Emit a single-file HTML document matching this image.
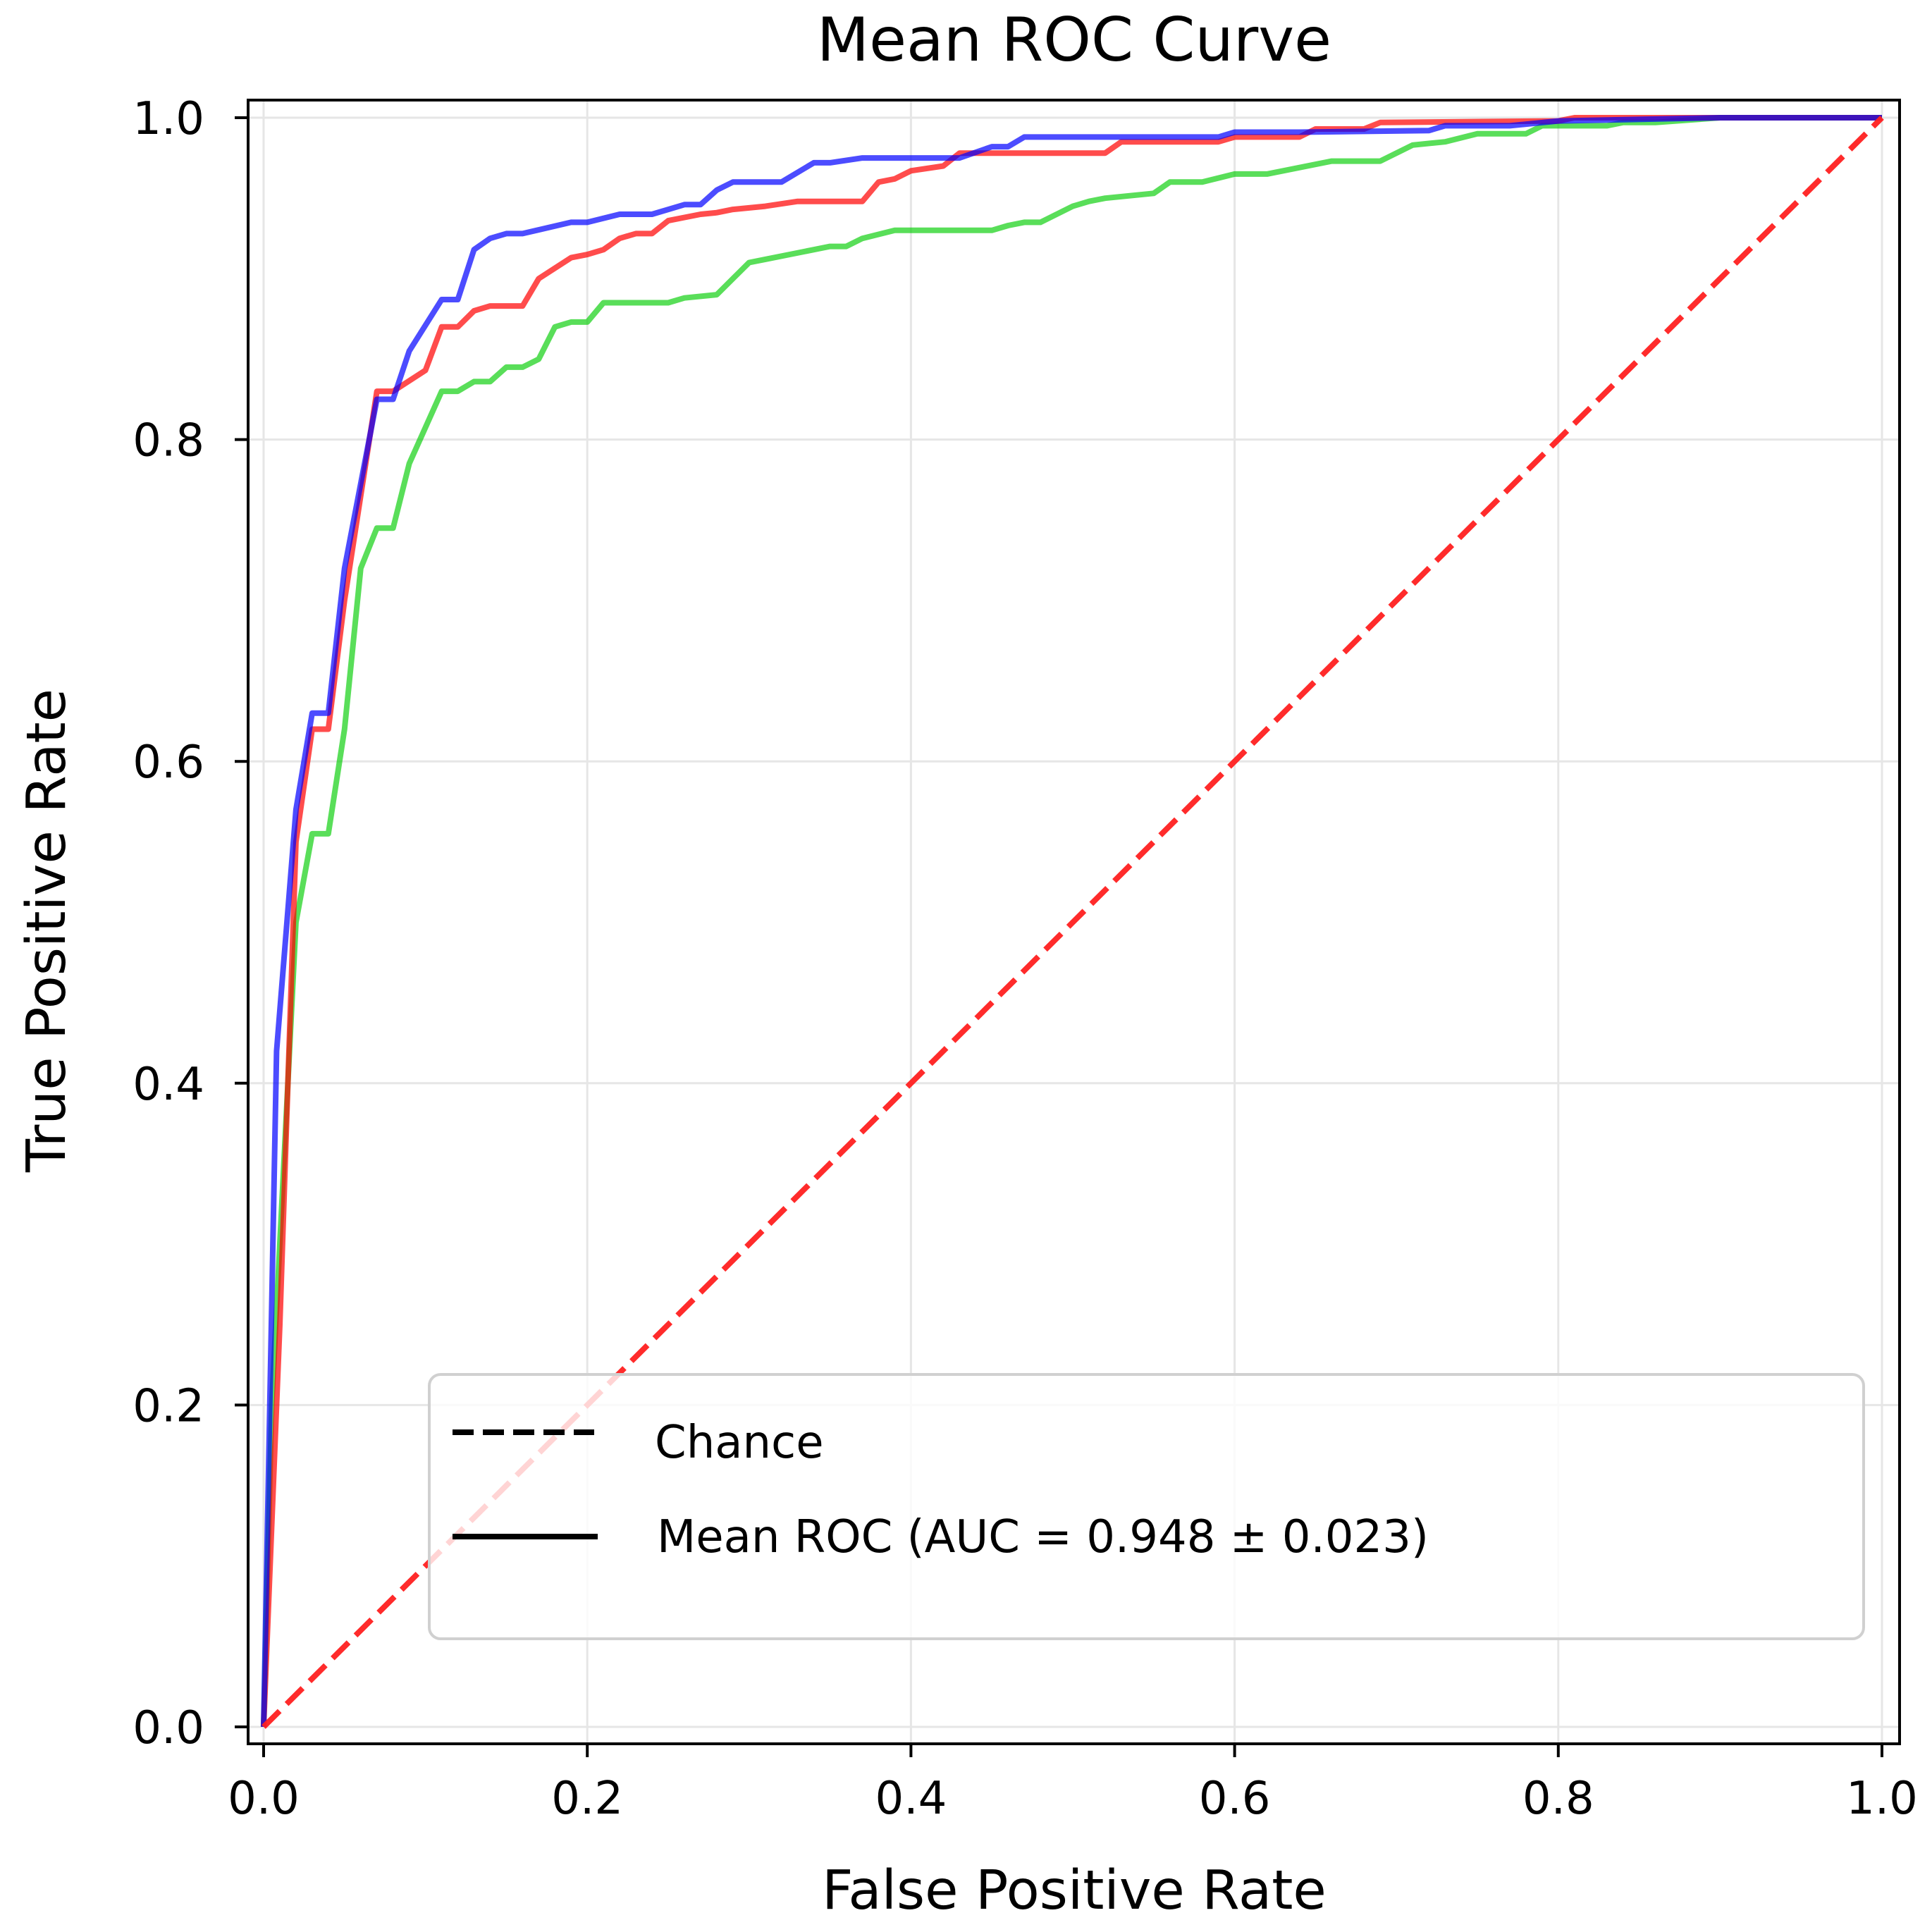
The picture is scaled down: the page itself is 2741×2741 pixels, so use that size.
<!DOCTYPE html>
<html><head><meta charset="utf-8"><style>
html,body{margin:0;padding:0;background:#fff}
svg{display:block}
text{font-family:"DejaVu Sans","Liberation Sans",sans-serif;fill:#000}
</style></head><body>
<svg id="chart" width="2741" height="2741" viewBox="0 0 2741 2741" xmlns="http://www.w3.org/2000/svg">
<text x="1524" y="86" font-size="86" text-anchor="middle">Mean ROC Curve</text>
<g id="grid"></g>
<g id="series"></g>
<rect x="352" y="142" width="2343" height="2332" fill="none" stroke="#000" stroke-width="4"/>
<g id="ticks"></g>
<text x="1524" y="2708" font-size="77" text-anchor="middle">False Positive Rate</text>
<text x="92" y="1320" font-size="77" text-anchor="middle" transform="rotate(-90 92 1320)">True Positive Rate</text>
<g>
<rect x="609" y="1950" width="2035" height="375" rx="16" fill="#fff" fill-opacity="0.8" stroke="#d0d0d0" stroke-width="4"/>
<line x1="642" y1="2032" x2="843" y2="2032" stroke="#000" stroke-width="8" stroke-dasharray="30 13"/>
<text x="929" y="2068" font-size="64">Chance</text>
<line x1="642" y1="2180" x2="848" y2="2180" stroke="#000" stroke-width="8"/>
<text x="932" y="2202" font-size="64">Mean ROC (AUC = 0.948 ± 0.023)</text>
</g>
</svg>
<script>
const tickValues=[0,0.2,0.4,0.6,0.8,1.0];
const tickLabels=["0.0","0.2","0.4","0.6","0.8","1.0"];
const blueX=[0,0.008,0.02,0.03,0.04,0.05,0.07,0.08,0.09,0.11,0.12,0.13,0.14,0.15,0.16,0.19,0.2,0.22,0.24,0.26,0.27,0.28,0.29,0.32,0.34,0.35,0.37,0.43,0.45,0.46,0.47,0.59,0.6,0.64,0.72,0.73,0.77,0.8,0.9,1];
const blueY=[0,0.42,0.57,0.63,0.63,0.72,0.825,0.825,0.855,0.887,0.887,0.918,0.925,0.928,0.928,0.935,0.935,0.94,0.94,0.946,0.946,0.955,0.96,0.96,0.972,0.972,0.975,0.975,0.982,0.982,0.988,0.988,0.991,0.991,0.992,0.995,0.995,0.998,1,1];
const redX=[0,0.01,0.02,0.03,0.04,0.05,0.07,0.08,0.1,0.11,0.12,0.13,0.14,0.16,0.17,0.19,0.2,0.21,0.22,0.23,0.24,0.25,0.27,0.28,0.29,0.31,0.33,0.37,0.38,0.39,0.4,0.42,0.43,0.52,0.53,0.59,0.6,0.64,0.65,0.68,0.69,0.8,0.81,1];
const redY=[0,0.25,0.55,0.62,0.62,0.70,0.83,0.83,0.843,0.87,0.87,0.88,0.883,0.883,0.9,0.913,0.915,0.918,0.925,0.928,0.928,0.936,0.94,0.941,0.943,0.945,0.948,0.948,0.96,0.962,0.967,0.97,0.978,0.978,0.985,0.985,0.988,0.988,0.993,0.993,0.997,0.998,1,1];
const greenX=[0,0.005,0.02,0.03,0.04,0.05,0.06,0.07,0.08,0.09,0.11,0.12,0.13,0.14,0.15,0.16,0.17,0.18,0.19,0.2,0.21,0.25,0.26,0.28,0.29,0.3,0.31,0.34,0.35,0.36,0.37,0.39,0.45,0.46,0.47,0.48,0.5,0.51,0.52,0.55,0.56,0.58,0.6,0.62,0.66,0.69,0.7,0.71,0.73,0.75,0.78,0.79,0.83,0.84,0.86,0.9,1];
const greenY=[0,0.2,0.5,0.555,0.555,0.62,0.72,0.745,0.745,0.785,0.83,0.83,0.836,0.836,0.845,0.845,0.85,0.87,0.873,0.873,0.885,0.885,0.888,0.89,0.9,0.91,0.912,0.918,0.92,0.92,0.925,0.93,0.93,0.933,0.935,0.935,0.945,0.948,0.95,0.953,0.96,0.96,0.965,0.965,0.973,0.973,0.978,0.983,0.985,0.99,0.99,0.995,0.995,0.997,0.997,1,1];
const chanceX=[0,1];
const chanceY=[0,1];
const NS="http://www.w3.org/2000/svg";
const X0=374,X1=2670,Y0=2450,Y1=167;
function sx(v){return X0+(X1-X0)*v;}
function sy(v){return Y0-(Y0-Y1)*v;}
function mk(tag,attrs,parent){const e=document.createElementNS(NS,tag);for(const k in attrs)e.setAttribute(k,attrs[k]);parent.appendChild(e);return e;}
const grid=document.getElementById('grid'),ticks=document.getElementById('ticks'),series=document.getElementById('series');
tickValues.forEach((v,i)=>{
  const gx=mk('line',{x1:sx(v),x2:sx(v),y1:142,y2:2474,stroke:'#e6e6e6','stroke-width':3},grid);
  
  
  const gy=mk('line',{x1:352,x2:2695,y1:sy(v),y2:sy(v),stroke:'#e6e6e6','stroke-width':3},grid);
  
  
  const tx=mk('line',{x1:sx(v),x2:sx(v),y1:2474,y2:2493,stroke:'#000','stroke-width':4},ticks);
  
  
  const ty=mk('line',{x1:333,x2:352,y1:sy(v),y2:sy(v),stroke:'#000','stroke-width':4},ticks);
  
  
  const lx=mk('text',{x:sx(v),y:2573,'font-size':64,'text-anchor':'middle'},ticks);
  lx.textContent=tickLabels[i];
  
  
  const ly=mk('text',{x:290,y:sy(v)+23,'font-size':64,'text-anchor':'end'},ticks);
  ly.textContent=tickLabels[i];
  
  
});
function line(xs,ys,color,name,extra){
  const d=xs.map((x,i)=>(i?'L':'M')+sx(x).toFixed(1)+' '+sy(ys[i]).toFixed(1)).join(' ');
  const p=mk('path',Object.assign({d:d,fill:'none',stroke:color,'stroke-width':8,'stroke-linejoin':'round','stroke-opacity':0.7},extra||{}),series);
  
  
}
line(greenX,greenY,'#00cc00','green-roc-curve',{'stroke-opacity':0.65});
line(redX,redY,'#ff0000','red-roc-curve');
line(blueX,blueY,'#0000ff','blue-roc-curve');
line(chanceX,chanceY,'#ff2020','chance-line',{'stroke-dasharray':'32 14','stroke-opacity':0.95,'stroke-width':8});
</script>
</body></html>
